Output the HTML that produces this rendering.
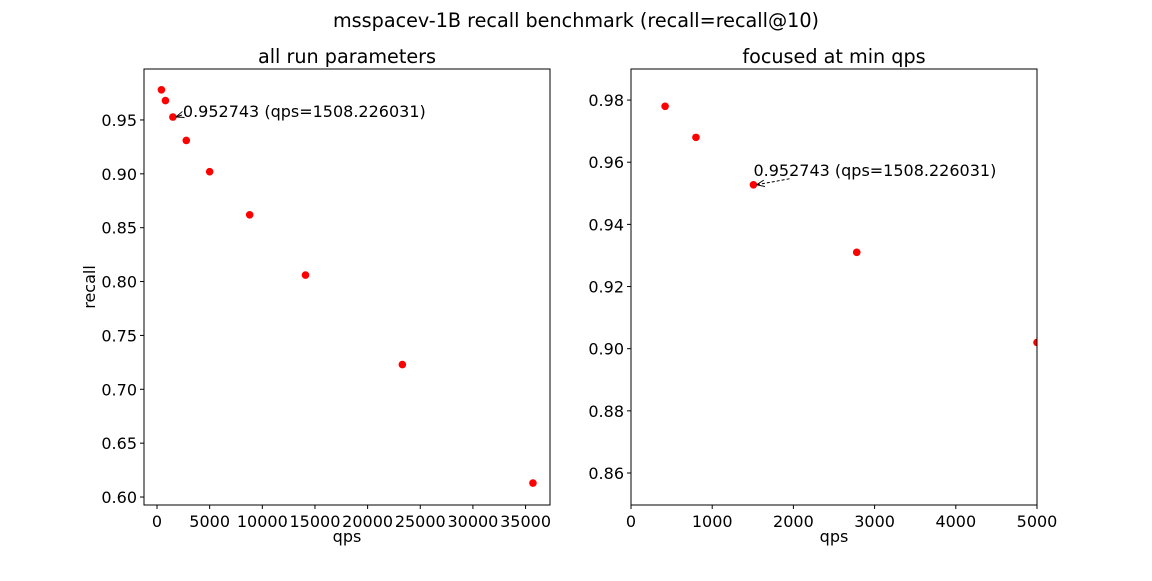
<!DOCTYPE html>
<html><head><meta charset="utf-8"><style>
body{margin:0;background:#fff;}
svg text{font-family:"DejaVu Sans","Liberation Sans",sans-serif;fill:#000;}
</style></head><body>
<svg id="chart" width="1152" height="576" xmlns="http://www.w3.org/2000/svg">
<defs><marker id="ah" viewBox="0 0 10 10" refX="10" refY="5" markerWidth="8" markerHeight="8" orient="auto"><path d="M0,1 L10,5 L0,9" fill="none" stroke="#000" stroke-width="1.2"/></marker></defs>
<text x="576" y="27" font-size="19.2" text-anchor="middle">msspacev-1B recall benchmark (recall=recall@10)</text>
</svg>
<script>
const qps=[420,800,1508,2780,5000,8800,14100,23300,35700];
const recall=[0.978,0.968,0.952743,0.931,0.902,0.862,0.806,0.723,0.613];
const leftXTicks=[0,5000,10000,15000,20000,25000,30000,35000];
const leftYTicks=[0.60,0.65,0.70,0.75,0.80,0.85,0.90,0.95];
const rightXTicks=[0,1000,2000,3000,4000,5000];
const rightYTicks=[0.86,0.88,0.90,0.92,0.94,0.96,0.98];
const annQps=1508.226031, annRecall=0.952743;
const svg=document.getElementById('chart');
const NS='http://www.w3.org/2000/svg';
function mk(t,a,p){const e=document.createElementNS(NS,t);for(const k in a)e.setAttribute(k,a[k]);(p||svg).appendChild(e);return e;}
function panel(o){
  const g=mk('g',{});
  
  
  const sx=v=>o.x0+(v-o.xmin)/(o.xmax-o.xmin)*(o.x1-o.x0);
  const sy=v=>o.y1-(v-o.ymin)/(o.ymax-o.ymin)*(o.y1-o.y0);
  const t=mk('text',{x:(o.x0+o.x1)/2,y:63,'font-size':19.2,'text-anchor':'middle'},g);t.textContent=o.title;
  
  
  o.xt.forEach(v=>{const x=sx(v);mk('line',{x1:x,x2:x,y1:o.y1,y2:o.y1+4,stroke:'#000'},g);
    const l=mk('text',{x:x,y:o.y1+22,'font-size':16,'text-anchor':'middle'},g);l.textContent=o.xf(v);
    
    });
  o.yt.forEach(v=>{const y=sy(v);mk('line',{x1:o.x0-4,x2:o.x0,y1:y,y2:y,stroke:'#000'},g);
    const l=mk('text',{x:o.x0-7,y:y+6,'font-size':16,'text-anchor':'end'},g);l.textContent=v.toFixed(2);
    
    });
  const xl=mk('text',{x:(o.x0+o.x1)/2,y:542,'font-size':16,'text-anchor':'middle'},g);xl.textContent='qps';
  
  
  if(o.ylab){const yl=mk('text',{x:0,y:0,'font-size':16,'text-anchor':'middle',transform:`translate(95,${(o.y0+o.y1)/2}) rotate(-90)`},g);yl.textContent='recall';
    
    }
  const cp='cp'+o.name;const c=mk('clipPath',{id:cp},g);mk('rect',{x:o.x0-5,y:o.y0,width:o.x1-o.x0+5,height:o.y1-o.y0},c);
  qps.forEach((q,i)=>{if(q>o.xmax+1)return;const d=mk('circle',{cx:sx(q),cy:sy(recall[i]),r:3.8,fill:'#f00','clip-path':`url(#${cp})`},g);
    
    });
  const px=sx(annQps),py=sy(annRecall);
  mk('line',{x1:px+o.ax,y1:py+o.ay,x2:px+3,y2:py,stroke:'#000','stroke-dasharray':o.dash,'marker-end':'url(#ah)'},g);
  const at=mk('text',{x:px+o.tx,y:py+o.ty,'font-size':16},g);at.textContent='0.952743 (qps=1508.226031)';
  
  
  mk('rect',{x:o.x0,y:o.y0,width:o.x1-o.x0,height:o.y1-o.y0,fill:'none',stroke:'#000','stroke-width':1},g);
}
panel({name:'left-panel',title:'all run parameters',x0:144,x1:550,y0:69,y1:505,xmin:-1236,xmax:37320,ymin:0.5926,ymax:0.9973,xt:leftXTicks,yt:leftYTicks,xf:v=>String(v),ylab:true,ax:9,ay:-2,tx:10,ty:0,dash:'none'});
panel({name:'right-panel',title:'focused at min qps',x0:631,x1:1037,y0:69,y1:505,xmin:0,xmax:5000,ymin:0.8497,ymax:0.99,xt:rightXTicks,yt:rightYTicks,xf:v=>String(v),ylab:false,ax:36,ay:-6,tx:0,ty:-9,dash:'3,2'});
</script>
</body></html>
